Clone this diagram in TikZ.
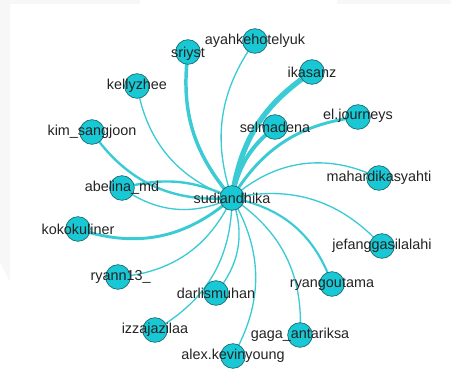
\documentclass[tikz,border=0pt]{standalone}
\usepackage{fontspec}
\setmainfont{Liberation Sans}
\usetikzlibrary{backgrounds}
\definecolor{nodecyan}{RGB}{24,200,212}
\definecolor{edgecyan}{RGB}{58,203,213}
\definecolor{rimteal}{RGB}{30,105,112}
\definecolor{labelgray}{RGB}{35,35,35}

\begin{document}
\begin{tikzpicture}[x=0.75pt, y=-0.75pt,
    user/.style={circle, fill=nodecyan, draw=rimteal, line width=0.5pt,
      minimum size=18.5pt, inner sep=0pt},
    every label/.style={text=labelgray, font=\fontsize{10.8}{13}\selectfont, inner sep=0pt},
    tie/.style={draw=edgecyan, line width=#1, bend left=30},
    tie/.default=1pt]
  \useasboundingbox (0,0) rectangle (451,369);
  % faint edges of the screenshot
  \fill[gray!6] (0,0) rectangle (140,4);
  \fill[gray!6] (337,0) rectangle (451,4);
  \fill[gray!6] (0,4) -- (10,4) -- (10,282) -- (0,262) -- cycle;
  % hub
  \node[user, label=center:sudiandhika] (hub) at (232,198) {};
  % accounts, clockwise from the top
  \node[user, label={[yshift=-1pt]center:sriyst}] (sriyst) at (188,52) {};
  \node[user, label=center:ayahkehotelyuk] (ayah) at (255,41) {};
  \node[user, label=center:ikasanz] (ikasanz) at (312,72) {};
  \node[user, label=center:selmadena] (selmadena) at (275,127) {};
  \node[user, label={[yshift=1pt]center:el.journeys}] (eljourneys) at (358,117) {};
  \node[user, label=center:mahardikasyahti] (mahardika) at (379,178) {};
  \node[user, label=center:jefanggasilalahi] (jefang) at (382,246) {};
  \node[user, label=center:ryangoutama] (ryangoutama) at (332,284) {};
  \node[user, label=center:gaga\_antariksa] (gaga) at (300,335) {};
  \node[user, label=center:alex.kevinyoung] (alex) at (233,356) {};
  \node[user, label=center:darlismuhan] (darlis) at (216,293) {};
  \node[user, label=center:izzajazilaa] (izza) at (155,330) {};
  \node[user, label={[xshift=2pt]center:ryann13\_}] (ryann) at (118,277) {};
  \node[user, label=center:kokokuliner] (koko) at (78,229) {};
  \node[user, label=center:abelina\_md] (abelina) at (122,188) {};
  \node[user, label=center:kim\_sangjoon] (kim) at (92,132) {};
  \node[user, label=center:kellyzhee] (kelly) at (137,86) {};
  \begin{scope}[on background layer]
    \path (hub.center) edge[tie=2.6pt, bend left=24] (sriyst.center)
          (hub.center) edge[tie, bend left=27] (ayah.center)
          (hub.center) edge[tie=4pt, bend left=24] (ikasanz.center)
          (hub.center) edge[tie=3pt, bend left=20] (selmadena.center)
          (hub.center) edge[tie=2.2pt, bend left=26] (eljourneys.center)
          (hub.center) edge[tie, bend left=34] (mahardika.center)
          (hub.center) edge[tie] (jefang.center)
          (hub.center) edge[tie=1.6pt] (ryangoutama.center)
          (hub.center) edge[tie] (gaga.center)
          (hub.center) edge[tie] (alex.center)
          (hub.center) edge[tie] (darlis.center)
          (hub.center) edge[tie] (izza.center)
          (hub.center) edge[tie] (ryann.center)
          (hub.center) edge[tie=2.2pt] (koko.center)
          (hub.center) edge[tie] (abelina.center)
          (abelina.center) edge[tie=1.8pt, bend left=20] (hub.center)
          (hub.center) edge[tie=1.8pt] (kim.center)
          (hub.center) edge[tie] (kelly.center);
  \end{scope}
\end{tikzpicture}
\end{document}
